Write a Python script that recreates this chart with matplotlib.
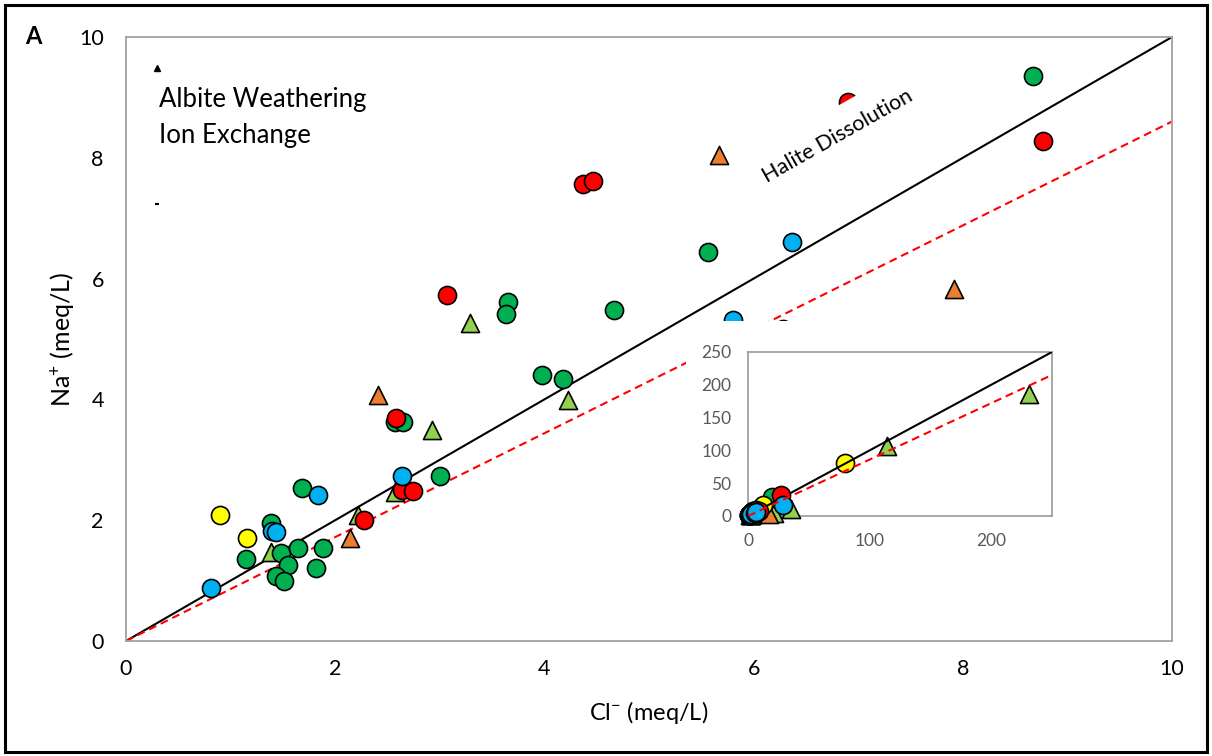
import matplotlib
matplotlib.use("Agg")
import matplotlib.pyplot as plt
from matplotlib.patches import Rectangle

plt.rcParams['font.family'] = ['Lato', 'DejaVu Sans']
plt.rcParams['mathtext.default'] = 'regular'

# ---------------- data (meq/L) ----------------
green_x = [1.15, 1.39, 1.48, 1.55, 1.64, 1.88, 1.82, 1.43, 1.51, 1.68, 3.00, 2.57, 2.65,
           3.65, 3.63, 4.67, 3.98, 4.18, 5.56, 8.67, 6.28, 20]
green_y = [1.36, 1.95, 1.46, 1.26, 1.54, 1.54, 1.21, 1.08, 0.99, 2.53, 2.73, 3.63, 3.63,
           5.61, 5.41, 5.48, 4.40, 4.34, 6.44, 9.35, 5.17, 29]

red_x = [2.28, 2.64, 2.74, 2.58, 3.07, 4.37, 4.46, 6.90, 8.77, 27]
red_y = [2.00, 2.50, 2.48, 3.69, 5.73, 7.57, 7.62, 8.93, 8.28, 32]

blue_x = [0.81, 1.40, 1.43, 1.84, 2.64, 5.80, 6.37, 29]
blue_y = [0.88, 1.82, 1.80, 2.42, 2.73, 5.31, 6.61, 17]

yellow_x = [0.90, 1.16, 12, 80]
yellow_y = [2.09, 1.71, 17, 81]

lgreen_tri_x = [1.39, 2.22, 2.57, 2.93, 3.29, 4.23, 35, 21, 114, 231]
lgreen_tri_y = [1.47, 2.09, 2.47, 3.49, 5.26, 3.99, 10, 5, 107, 186]

orange_tri_x = [2.14, 2.41, 5.67, 7.92, 17]
orange_tri_y = [1.71, 4.07, 8.05, 5.83, 3]

halite_slope = 1.0
trend_slope = 0.86

main_ticks = [0, 2, 4, 6, 8, 10]
inset_xticks = [0, 100, 200]
inset_yticks = [0, 50, 100, 150, 200, 250]

# ---------------- style ----------------
C_GREEN = '#00b050'
C_LGREEN = '#92d050'
C_RED = '#ff0000'
C_BLUE = '#00b0f0'
C_YELLOW = '#ffff00'
C_ORANGE = '#ed7d31'

W, H = 1212, 756
fig = plt.figure(figsize=(W / 100, H / 100), dpi=100)
fig.patch.set_facecolor('white')


def fx(px):
    return px / W


def fy(py):
    return 1 - py / H


def draw_series(ax, ms, z0=3):
    kw = dict(edgecolors='black', linewidths=1.2)
    s = ms ** 2
    ax.scatter(lgreen_tri_x, lgreen_tri_y, s=s, marker='^', c=C_LGREEN, zorder=z0, **kw)
    ax.scatter(orange_tri_x, orange_tri_y, s=s, marker='^', c=C_ORANGE, zorder=z0, **kw)
    ax.scatter(green_x, green_y, s=s, marker='o', c=C_GREEN, zorder=z0 + 1, **kw)
    ax.scatter(yellow_x, yellow_y, s=s, marker='o', c=C_YELLOW, zorder=z0 + 1, **kw)
    ax.scatter(red_x, red_y, s=s, marker='o', c=C_RED, zorder=z0 + 2, **kw)
    ax.scatter(blue_x, blue_y, s=s, marker='o', c=C_BLUE, zorder=z0 + 3, **kw)


# ---------------- main axes ----------------
L, R, T, B = 126, 1172, 37, 641
ax = fig.add_axes([fx(L), fy(B), (R - L) / W, (B - T) / H])
ax.set_xlim(0, 10)
ax.set_ylim(0, 10)
ax.set_xticks(main_ticks)
ax.set_yticks(main_ticks)
ax.tick_params(length=0, labelsize=15.5, colors='black')
ax.tick_params(axis='x', pad=13)
ax.tick_params(axis='y', pad=16)
for sp in ax.spines.values():
    sp.set_color('#a0a0a0')
    sp.set_linewidth(1.3)

ax.axline((0, 0), slope=halite_slope, color='black', lw=1.5, zorder=2)
ax.axline((0, 0), slope=trend_slope, color='#ff0000', lw=1.5,
          linestyle=(0, (3.8, 2.4)), zorder=2)
draw_series(ax, 13)

ax.text(6.80, 8.35, 'Halite Dissolution', rotation=29.5, rotation_mode='anchor',
        ha='center', va='center', fontsize=15.5, zorder=10,
        bbox=dict(facecolor='white', edgecolor='none', pad=12))

# legend remnants
ax.plot([0.30], [9.49], marker='^', color='black', markersize=4.5, linestyle='none', zorder=6)
ax.plot([0.30], [7.23], marker='_', color='black', markersize=3, mew=1.5, linestyle='none', zorder=6)
ax.text(0.32, 8.97, 'Albite Weathering', fontsize=18.5, ha='left', va='center', zorder=6)
ax.text(0.32, 8.37, 'Ion Exchange', fontsize=18.5, ha='left', va='center', zorder=6)

fig.text(fx(649), fy(713), 'Cl$^{-}$ (meq/L)', ha='center', va='center', fontsize=17)
fig.text(fx(63), fy(339), 'Na$^{+}$ (meq/L)', ha='center', va='center', rotation=90, fontsize=18)
fig.text(fx(33), fy(36), 'A', ha='center', va='center', fontsize=17, fontweight='bold')

# ---------------- inset ----------------
# white chart area behind inset
fig.patches.append(Rectangle((fx(686), fy(560)), (1085 - 686) / W, (560 - 321) / H,
                             transform=fig.transFigure, facecolor='white',
                             edgecolor='none', zorder=20))
iL, iR, iT, iB = 748, 1052, 352, 516
axi = fig.add_axes([fx(iL), fy(iB), (iR - iL) / W, (iB - iT) / H], zorder=21)
axi.set_xlim(0, 250)
axi.set_ylim(0, 250)
axi.set_xticks(inset_xticks)
axi.set_yticks(inset_yticks)
axi.tick_params(length=0, labelsize=12.5, colors='#595959')
axi.tick_params(axis='x', pad=12)
axi.tick_params(axis='y', pad=12)
for sp in axi.spines.values():
    sp.set_color('#a0a0a0')
    sp.set_linewidth(1.3)
axi.axline((0, 0), slope=halite_slope, color='black', lw=1.5, zorder=5)
axi.axline((0, 0), slope=trend_slope, color='#ff0000', lw=1.5,
           linestyle=(0, (3.8, 2.4)), zorder=9)
draw_series(axi, 13)
for coll in axi.collections:
    coll.set_clip_on(False)

# outer frame
fig.patches.append(Rectangle((fx(5), fy(752)), (1207 - 5) / W, (752 - 5) / H,
                             transform=fig.transFigure, facecolor='none',
                             edgecolor='black', lw=2.2, zorder=30))

fig.savefig('out.png', dpi=100)
